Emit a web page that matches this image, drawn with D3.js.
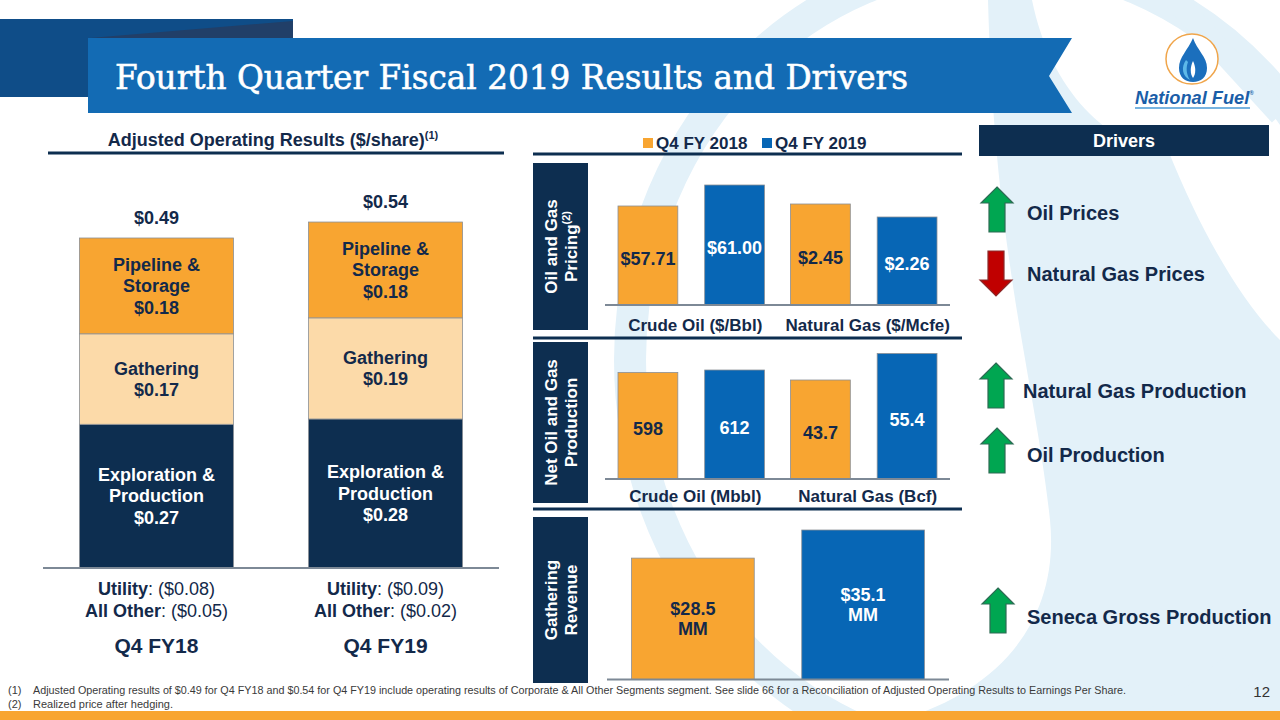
<!DOCTYPE html>
<html><head><meta charset="utf-8">
<script src="https://cdn.jsdelivr.net/npm/d3@7"></script>
<style>
body{margin:0;background:#fff;}
svg{display:block;}
text{font-family:"Liberation Sans",Arial,Helvetica,sans-serif;}
</style>
</head><body>
<svg id="c" width="1280" height="720"></svg>
<script>
// ---------------- DATA ----------------
const titleText = "Fourth Quarter Fiscal 2019 Results and Drivers";
const leftHeader = "Adjusted Operating Results ($/share)";
const periods = ["Q4 FY18", "Q4 FY19"];
const segmentKeys = ["ep", "gathering", "pipeline"];
const segmentLabelLines = [["Exploration &", "Production"], ["Gathering"], ["Pipeline &", "Storage"]];
const epValues = [0.27, 0.28];
const gatheringValues = [0.17, 0.19];
const pipelineValues = [0.18, 0.18];
const totalLabels = ["$0.49", "$0.54"];
const utilityLabels = ["($0.08)", "($0.09)"];
const allOtherLabels = ["($0.05)", "($0.02)"];

const seriesNames = ["Q4 FY 2018", "Q4 FY 2019"];
const pricingCategories = ["Crude Oil ($/Bbl)", "Natural Gas ($/Mcfe)"];
const pricing2018 = [57.71, 2.45];
const pricing2019 = [61.00, 2.26];
const productionCategories = ["Crude Oil (Mbbl)", "Natural Gas (Bcf)"];
const production2018 = [598, 43.7];
const production2019 = [612, 55.4];
const gatheringRevenue = [28.5, 35.1];

const panelTitles = [["Oil and Gas", "Pricing"], ["Net Oil and Gas", "Production"], ["Gathering", "Revenue"]];

const driverLabels = ["Oil Prices", "Natural Gas Prices", "Natural Gas Production", "Oil Production", "Seneca Gross Production"];
const driverDirections = ["up", "down", "up", "up", "up"];

const footnotes = [
  "Adjusted Operating results of $0.49 for Q4 FY18 and $0.54 for Q4 FY19 include operating results of Corporate & All Other Segments segment.  See slide 66 for a Reconciliation of Adjusted Operating Results to Earnings Per Share.",
  "Realized price after hedging."
];
const pageNumber = "12";

// ---------------- STYLE ----------------
const NAVY = "#0d2e50", TXT = "#13294a", ORANGE = "#f8a531", PEACH = "#fcdaa9",
      BLUE = "#0766b5", LIGHT = "#e3f1f9", GRAY = "#7d8996", EDGE = "#8a8f96";

const svg = d3.select("#c");

// ---------------- WATERMARK ----------------
const wm = svg.append("g");
wm.append("path")
  .attr("d", "M988,0 L1032,0 C1050,90 1110,150 1168,150 C1200,230 1240,300 1280,340 L1280,720 L900,720 C1000,690 1060,620 1050,520 C1035,380 995,260 988,0 Z")
  .attr("fill", LIGHT);
wm.append("ellipse").attr("cx", 1000).attr("cy", 360).attr("rx", 370).attr("ry", 400)
  .attr("fill", "none").attr("stroke", LIGHT).attr("stroke-width", 32);
wm.append("path").attr("d", "M1175,0 L1280,115").attr("stroke", LIGHT).attr("stroke-width", 22);

// ---------------- TITLE BANNER ----------------
svg.append("rect").attr("x", 0).attr("y", 19).attr("width", 293).attr("height", 78).attr("fill", "#0f4d88");
svg.append("polygon").attr("points", "88,38 1072,38 1049,76 1072,113 88,113").attr("fill", "#136bb4");
svg.append("polygon").attr("points", "90,38 293,21 293,38").attr("fill", "#213f68");
svg.append("text").attr("x", 115).attr("y", 89)
  .attr("fill", "#fff").attr("stroke", "#fff").attr("stroke-width", 0.6)
  .style("font-family", "'DejaVu Serif',serif").attr("font-size", 34)
  .attr("textLength", 793).attr("lengthAdjust", "spacingAndGlyphs").text(titleText);

// ---------------- LOGO ----------------
const logo = svg.append("g");
logo.append("ellipse").attr("cx", 1192).attr("cy", 59).attr("rx", 26).attr("ry", 25)
  .attr("fill", "#fff").attr("stroke", "#f0a54a").attr("stroke-width", 1.5);
logo.append("path").attr("d", "M1193,38 C1188,50 1179,57 1179,68 C1179,77 1185,82 1193,82 C1201,82 1207,77 1207,68 C1207,57 1197,50 1193,38 Z")
  .attr("fill", "#1b6fbd");
logo.append("path").attr("d", "M1186,60 C1181,67 1182,76 1190,80 C1186,74 1186,67 1188,62 Z").attr("fill", "#5db8e8");
logo.append("path").attr("d", "M1193,61 C1190,67 1190,74 1193,78 C1196,74 1196,67 1193,61 Z").attr("fill", "#ffffff");
const lt = logo.append("text").attr("x", 1135).attr("y", 104).attr("fill", "#1a5ea8")
  .attr("font-size", 18.2).attr("font-weight", "bold").attr("font-style", "italic");
lt.append("tspan").text("National Fuel");
lt.append("tspan").attr("font-size", 6).attr("dy", -9).text("®");
logo.append("line").attr("x1", 1135).attr("x2", 1250).attr("y1", 108).attr("y2", 108)
  .attr("stroke", "#4a9ad6").attr("stroke-width", 1.5);

// ---------------- LEFT STACKED CHART ----------------
const left = svg.append("g");
const hdr = left.append("text").attr("x", 273).attr("y", 146).attr("text-anchor", "middle")
  .attr("fill", TXT).attr("font-size", 18).attr("font-weight", "bold");
hdr.append("tspan").text(leftHeader);
hdr.append("tspan").attr("font-size", 11).attr("dy", -7).text("(1)");
left.append("line").attr("x1", 48).attr("x2", 504).attr("y1", 153).attr("y2", 153)
  .attr("stroke", NAVY).attr("stroke-width", 3);

const lx = d3.scaleBand().domain(periods).range([43, 499]).paddingInner(0.3275).paddingOuter(0.159);
const ly = d3.scaleLinear().domain([0, 0.62]).range([568, 238]);
const rows = periods.map((p, i) => ({period: p, ep: epValues[i], gathering: gatheringValues[i], pipeline: pipelineValues[i]}));
const stack = d3.stack().keys(segmentKeys)(rows);
const segFill = {ep: NAVY, gathering: PEACH, pipeline: ORANGE};
const segText = {ep: "#ffffff", gathering: TXT, pipeline: TXT};

stack.forEach((layer, li) => {
  const g = left.append("g");
  g.selectAll("rect").data(layer).join("rect")
    .attr("x", d => lx(d.data.period)).attr("width", lx.bandwidth())
    .attr("y", d => ly(d[1])).attr("height", d => ly(d[0]) - ly(d[1]))
    .attr("fill", segFill[layer.key]).attr("stroke", EDGE).attr("stroke-width", 0.8);
  layer.forEach(d => {
    const lines = segmentLabelLines[li].concat(["$" + d3.format(".2f")(d.data[layer.key])]);
    const cy = (ly(d[0]) + ly(d[1])) / 2;
    const cx = lx(d.data.period) + lx.bandwidth() / 2;
    lines.forEach((t, k) => {
      g.append("text").attr("x", cx).attr("y", cy + (k - (lines.length - 1) / 2) * 21.5)
        .attr("dy", "0.35em").attr("text-anchor", "middle").attr("font-size", 18).attr("font-weight", "bold")
        .attr("fill", segText[layer.key]).text(t);
    });
  });
});
// totals
rows.forEach((r, i) => {
  const top = ly(r.ep + r.gathering + r.pipeline);
  left.append("text").attr("x", lx(r.period) + lx.bandwidth() / 2).attr("y", top - 20).attr("dy", "0.35em")
    .attr("text-anchor", "middle").attr("font-size", 18).attr("font-weight", "bold").attr("fill", TXT).text(totalLabels[i]);
});
left.append("line").attr("x1", 43).attr("x2", 499).attr("y1", ly(0)).attr("y2", ly(0))
  .attr("stroke", GRAY).attr("stroke-width", 2);
periods.forEach((p, i) => {
  const cx = lx(p) + lx.bandwidth() / 2;
  const t1 = left.append("text").attr("x", cx).attr("y", 589).attr("dy", "0.35em").attr("text-anchor", "middle")
    .attr("font-size", 18).attr("fill", TXT);
  t1.append("tspan").attr("font-weight", "bold").text("Utility");
  t1.append("tspan").text(": " + utilityLabels[i]);
  const t2 = left.append("text").attr("x", cx).attr("y", 611).attr("dy", "0.35em").attr("text-anchor", "middle")
    .attr("font-size", 18).attr("fill", TXT);
  t2.append("tspan").attr("font-weight", "bold").text("All Other");
  t2.append("tspan").text(": " + allOtherLabels[i]);
  left.append("text").attr("x", cx).attr("y", 646).attr("dy", "0.35em").attr("text-anchor", "middle")
    .attr("font-size", 21).attr("font-weight", "bold").attr("fill", TXT).text(p);
});

// ---------------- MIDDLE PANELS ----------------
const mid = svg.append("g");
// legend
const legendX = [643, 762];
seriesNames.forEach((s, i) => {
  mid.append("rect").attr("x", legendX[i]).attr("y", 138).attr("width", 10).attr("height", 10)
    .attr("fill", i === 0 ? ORANGE : BLUE);
  mid.append("text").attr("x", legendX[i] + 13).attr("y", 143).attr("dy", "0.35em").attr("font-size", 17)
    .attr("font-weight", "bold").attr("fill", TXT).text(s);
});
[154, 338, 509].forEach(y => {
  mid.append("line").attr("x1", 533).attr("x2", 962).attr("y1", y).attr("y2", y)
    .attr("stroke", NAVY).attr("stroke-width", 3);
});

function sideBox(y0, y1, lines, sup) {
  mid.append("rect").attr("x", 533).attr("y", y0).attr("width", 55).attr("height", y1 - y0).attr("fill", NAVY);
  const g = mid.append("g").attr("transform", `translate(561,${(y0 + y1) / 2}) rotate(-90)`);
  lines.forEach((t, k) => {
    const tx = g.append("text").attr("x", 0).attr("y", k === 0 ? -10 : 10).attr("dy", "0.35em")
      .attr("text-anchor", "middle").attr("font-size", 17).attr("font-weight", "bold").attr("fill", "#fff");
    tx.append("tspan").text(t);
    if (k === 1 && sup) tx.append("tspan").attr("font-size", 11).attr("dy", -7).text(sup);
  });
}

const series = seriesNames;
const fills = [ORANGE, BLUE];
const labelFills = [TXT, "#ffffff"];

function groupedPanel(categories, vals2018, vals2019, baseline, yScales, fmt, catLabelY) {
  const x0 = d3.scaleBand().domain(categories).range([605, 950]);
  const x1 = d3.scaleBand().domain(series).range([0, x0.bandwidth()]).paddingInner(0.31).paddingOuter(0.15);
  const g = mid.append("g");
  categories.forEach((c, ci) => {
    const y = yScales[ci];
    const vals = [vals2018[ci], vals2019[ci]];
    const gg = g.append("g").attr("transform", `translate(${x0(c)},0)`);
    gg.selectAll("rect").data(vals).join("rect")
      .attr("x", (d, i) => x1(series[i])).attr("width", x1.bandwidth())
      .attr("y", d => y(d)).attr("height", d => baseline - y(d))
      .attr("fill", (d, i) => fills[i]).attr("stroke", EDGE).attr("stroke-width", 0.8);
    gg.selectAll("text.v").data(vals).join("text").attr("class", "v")
      .attr("x", (d, i) => x1(series[i]) + x1.bandwidth() / 2)
      .attr("y", d => (y(d) + baseline) / 2 + 3).attr("dy", "0.35em").attr("text-anchor", "middle")
      .attr("font-size", 18).attr("font-weight", "bold").attr("fill", (d, i) => labelFills[i]).text(fmt);
    g.append("text").attr("x", x0(c) + x0.bandwidth() / 2 + 4).attr("y", catLabelY).attr("dy", "0.35em")
      .attr("text-anchor", "middle").attr("font-size", 17).attr("font-weight", "bold").attr("fill", TXT).text(c);
  });
  g.append("line").attr("x1", 605).attr("x2", 950).attr("y1", baseline).attr("y2", baseline)
    .attr("stroke", GRAY).attr("stroke-width", 2);
}

// Panel 1: pricing (truncated axes per category, as in the source)
sideBox(163, 330, panelTitles[0], "(2)");
groupedPanel(pricingCategories, pricing2018, pricing2019, 305,
  [d3.scaleLinear().domain([42.2, 61.0]).range([305, 185]),
   d3.scaleLinear().domain([0.974, 2.45]).range([305, 204])],
  d => "$" + d3.format(".2f")(d), 325);

// Panel 2: production
sideBox(342, 503, panelTitles[1], null);
groupedPanel(productionCategories, production2018, production2019, 479,
  [d3.scaleLinear().domain([0, 612]).range([479, 370]),
   d3.scaleLinear().domain([0, 55.4]).range([479, 353.5])],
  d => d3.format(",")(d), 496);

// Panel 3: gathering revenue
sideBox(517, 683, panelTitles[2], null);
{
  const gx = d3.scaleBand().domain(series).range([607, 949]).paddingInner(0.279).paddingOuter(0.144);
  const gy = d3.scaleLinear().domain([0, 35.1]).range([679.5, 530]);
  const g = mid.append("g");
  g.selectAll("rect").data(gatheringRevenue).join("rect")
    .attr("x", (d, i) => gx(series[i])).attr("width", gx.bandwidth())
    .attr("y", d => gy(d)).attr("height", d => gy(0) - gy(d))
    .attr("fill", (d, i) => fills[i]).attr("stroke", EDGE).attr("stroke-width", 0.8);
  gatheringRevenue.forEach((d, i) => {
    const cx = gx(series[i]) + gx.bandwidth() / 2, cy = (gy(d) + gy(0)) / 2;
    ["$" + d3.format(".1f")(d), "MM"].forEach((t, k) => {
      g.append("text").attr("x", cx).attr("y", cy + (k === 0 ? -10 : 10)).attr("dy", "0.35em")
        .attr("text-anchor", "middle").attr("font-size", 18).attr("font-weight", "bold")
        .attr("fill", labelFills[i]).text(t);
    });
  });
  g.append("line").attr("x1", 607).attr("x2", 949).attr("y1", gy(0)).attr("y2", gy(0))
    .attr("stroke", GRAY).attr("stroke-width", 2);
}

// ---------------- DRIVERS ----------------
const drv = svg.append("g");
drv.append("rect").attr("x", 979).attr("y", 125).attr("width", 290).attr("height", 31).attr("fill", NAVY);
drv.append("text").attr("x", 1124).attr("y", 141).attr("dy", "0.35em").attr("text-anchor", "middle")
  .attr("font-size", 18).attr("font-weight", "bold").attr("fill", "#fff").text("Drivers");
const arrowTop = [187, 251, 363, 428, 588];
const arrowCx = [997, 996, 996, 997, 998];
const textY = [213, 274, 391, 455, 617];
const textX = [1027, 1027, 1023, 1027, 1027];
driverLabels.forEach((lab, i) => {
  const cx = arrowCx[i], t = arrowTop[i], h = 45;
  let pts;
  if (driverDirections[i] === "up") {
    pts = [[cx, t], [cx + 16, t + 16], [cx + 8, t + 16], [cx + 8, t + h], [cx - 8, t + h], [cx - 8, t + 16], [cx - 16, t + 16]];
  } else {
    pts = [[cx - 8, t], [cx + 8, t], [cx + 8, t + h - 16], [cx + 16, t + h - 16], [cx, t + h], [cx - 16, t + h - 16], [cx - 8, t + h - 16]];
  }
  drv.append("polygon").attr("points", pts.map(p => p.join(",")).join(" "))
    .attr("fill", driverDirections[i] === "up" ? "#00a651" : "#c00000")
    .attr("stroke", driverDirections[i] === "up" ? "#2d6b54" : "#8a2b2b").attr("stroke-width", 1.2);
  drv.append("text").attr("x", textX[i]).attr("y", textY[i]).attr("dy", "0.35em")
    .attr("font-size", 20).attr("font-weight", "bold").attr("fill", TXT).text(lab);
});

// ---------------- FOOTNOTES ----------------
const fn = svg.append("g");
footnotes.forEach((t, i) => {
  const y = 690 + i * 14;
  fn.append("text").attr("x", 8).attr("y", y).attr("dy", "0.35em").attr("font-size", 11)
    .style("font-family", "'Liberation Sans Narrow','Arial Narrow',sans-serif").attr("fill", "#3a3a3a").text(`(${i + 1})`);
  const tt = fn.append("text").attr("x", 33).attr("y", y).attr("dy", "0.35em").attr("font-size", 11)
    .style("font-family", "'Liberation Sans Narrow','Arial Narrow',sans-serif").attr("fill", "#3a3a3a").text(t);
  if (i === 0) tt.attr("textLength", 1093).attr("lengthAdjust", "spacingAndGlyphs");
});
fn.append("text").attr("x", 1270).attr("y", 692).attr("dy", "0.35em").attr("text-anchor", "end")
  .attr("font-size", 15).attr("fill", "#333").text(pageNumber);
svg.append("rect").attr("x", 0).attr("y", 711).attr("width", 1280).attr("height", 9).attr("fill", ORANGE);
</script>
</body></html>
